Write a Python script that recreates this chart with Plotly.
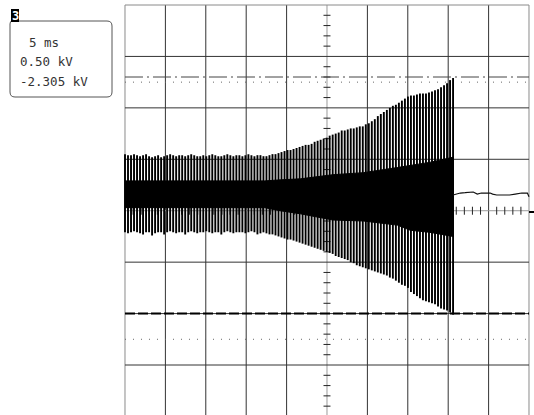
import plotly.graph_objects as go

ms_per_div = 5.0          # time base
kv_per_div = 0.50         # vertical scale
n_xdiv = 10
n_ydiv = 8

# burst: one vertical excursion every spike_period_ms (peak high / low in kV)
spike_period_ms = 0.3725
spike_hi = [
    0.55, 0.54, 0.54, 0.55, 0.54, 0.53, 0.54, 0.55, 0.53, 0.52,
    0.53, 0.54, 0.52, 0.53, 0.54, 0.55, 0.54, 0.53, 0.54, 0.54,
    0.53, 0.54, 0.55, 0.54, 0.53, 0.53, 0.54, 0.53, 0.54, 0.55,
    0.54, 0.53, 0.53, 0.54, 0.55, 0.54, 0.53, 0.54, 0.54, 0.53,
    0.54, 0.55, 0.54, 0.53, 0.54, 0.54, 0.53,
    0.53, 0.54, 0.55, 0.55, 0.56, 0.57, 0.58, 0.59, 0.59, 0.60,
    0.61, 0.62, 0.63, 0.64, 0.64, 0.65, 0.67, 0.68, 0.69, 0.70,
    0.71, 0.73, 0.74, 0.75, 0.76, 0.78, 0.78, 0.79, 0.80, 0.80,
    0.81, 0.82, 0.82, 0.84, 0.85, 0.87, 0.89, 0.92, 0.94, 0.96,
    0.98, 1.00, 1.02, 1.03, 1.05, 1.07, 1.09, 1.11, 1.12, 1.12,
    1.13, 1.14, 1.14, 1.14, 1.15, 1.16, 1.17, 1.18, 1.20, 1.22,
    1.24, 1.27, 1.29,
]
spike_lo = [
    -0.21, -0.22, -0.21, -0.20, -0.21, -0.22, -0.23, -0.21, -0.21, -0.24,
    -0.22, -0.21, -0.21, -0.23, -0.21, -0.20, -0.21, -0.22, -0.21, -0.21,
    -0.23, -0.21, -0.20, -0.21, -0.22, -0.21, -0.21, -0.20, -0.21, -0.22,
    -0.21, -0.21, -0.23, -0.21, -0.20, -0.21, -0.22, -0.21, -0.21, -0.21,
    -0.22, -0.21, -0.20, -0.21, -0.23, -0.22, -0.21,
    -0.22, -0.23, -0.23, -0.24, -0.25, -0.26, -0.27, -0.28, -0.28, -0.29,
    -0.30, -0.31, -0.32, -0.33, -0.34, -0.35, -0.36, -0.37, -0.38, -0.39,
    -0.40, -0.41, -0.42, -0.44, -0.45, -0.46, -0.47, -0.48, -0.50, -0.51,
    -0.53, -0.54, -0.55, -0.56, -0.57, -0.58, -0.59, -0.60, -0.61, -0.62,
    -0.63, -0.65, -0.66, -0.68, -0.70, -0.72, -0.73, -0.75, -0.79, -0.81,
    -0.83, -0.85, -0.87, -0.88, -0.89, -0.90, -0.91, -0.93, -0.95, -0.96,
    -0.97, -0.99, -1.01,
]

# dense core of the burst (upper / lower edge, kV)
band_t = [0.0, 17.3, 19.2, 21.7, 25.7, 29.5, 33.7, 35.3, 37.7, 40.6]
band_hi = [0.29, 0.29, 0.30, 0.31, 0.35, 0.37, 0.42, 0.44, 0.47, 0.52]
band_lo = [0.03, 0.03, 0.00, -0.03, -0.09, -0.10, -0.14, -0.19, -0.21, -0.25]

# trace after the burst
tail_t = [40.6, 41.1, 41.5, 42.1, 42.6, 43.1, 43.6, 44.1, 44.6, 45.2, 45.5,
          46.0, 46.8, 47.6, 48.3, 48.8, 49.1, 49.8, 50.0]
tail_v = [0.153, 0.162, 0.172, 0.175, 0.182, 0.182, 0.162, 0.172, 0.172, 0.172,
          0.162, 0.153, 0.153, 0.153, 0.162, 0.172, 0.172, 0.172, 0.136]

# cursor levels (kV)
cursor_dashdot = 1.30
cursor_dot_hi = 1.25
cursor_dash = -1.00
cursor_dot_lo = -1.25

info_lines = ["5 ms", "0.50 kV", "-2.305 kV"]
channel_label = "3"

# ---------------- figure ----------------
W, H = 534, 415
x_left_px, x_right_px = 125, 529
y_top_px = 5
px_per_div_y = 51.43

t_max = ms_per_div * n_xdiv
v_half = kv_per_div * n_ydiv / 2
px_per_ms = (x_right_px - x_left_px) / t_max
px_per_kv = px_per_div_y / kv_per_div
pad_ms = 0.3
v_top = v_half + y_top_px / px_per_kv
v_bot = v_top - H / px_per_kv

fig = go.Figure()

# spikes
sx, sy = [], []
for i, (hi, lo) in enumerate(zip(spike_hi, spike_lo)):
    t = i * spike_period_ms
    sx += [t, t, None]
    sy += [lo, hi, None]
fig.add_trace(go.Scatter(x=sx, y=sy, mode="lines",
                         line=dict(color="#000000", width=1.9),
                         hoverinfo="skip", showlegend=False))

# dense core
fig.add_trace(go.Scatter(x=band_t + band_t[::-1], y=band_hi + band_lo[::-1],
                         mode="lines", fill="toself", fillcolor="#000000",
                         line=dict(color="#000000", width=1),
                         hoverinfo="skip", showlegend=False))

# tail
fig.add_trace(go.Scatter(x=tail_t, y=tail_v, mode="lines",
                         line=dict(color="#111111", width=1.2),
                         hoverinfo="skip", showlegend=False))

shapes = []
# graticule
for k in range(n_xdiv + 1):
    t = k * ms_per_div
    if k in (0, n_xdiv):
        col = "#8a8a8a"
    elif k == n_xdiv // 2:
        col = "#9a9a9a"
    else:
        col = "#333333"
    shapes.append(dict(type="line", xref="x", yref="y", x0=t, x1=t,
                       y0=-v_half, y1=v_half, layer="below",
                       line=dict(color=col, width=1)))
for j in range(n_ydiv + 1):
    v = -v_half + j * kv_per_div
    if j in (0, n_ydiv):
        col = "#8a8a8a"
    elif j == n_ydiv // 2:
        col = "#9a9a9a"
    else:
        col = "#333333"
    shapes.append(dict(type="line", xref="x", yref="y", x0=0, x1=t_max,
                       y0=v, y1=v, layer="below",
                       line=dict(color=col, width=1)))
# minor ticks on centre axes
half_tick_ms = 3.5 / px_per_ms
for m in range(-n_ydiv * 5 // 2, n_ydiv * 5 // 2 + 1):
    if m % 5 == 0:
        continue
    v = m * kv_per_div / 5
    shapes.append(dict(type="line", xref="x", yref="y",
                       x0=t_max / 2 - half_tick_ms, x1=t_max / 2 + half_tick_ms,
                       y0=v, y1=v, layer="below",
                       line=dict(color="#222222", width=1)))
half_tick_kv = 4 / px_per_kv
for m in range(n_xdiv * 5 + 1):
    if m % 5 == 0:
        continue
    t = m * ms_per_div / 5
    shapes.append(dict(type="line", xref="x", yref="y", x0=t, x1=t,
                       y0=-half_tick_kv, y1=half_tick_kv, layer="below",
                       line=dict(color="#222222", width=1)))
# cursors
shapes.append(dict(type="line", xref="x", yref="y", x0=0, x1=t_max,
                   y0=cursor_dashdot, y1=cursor_dashdot, layer="below",
                   line=dict(color="#444444", width=1, dash="18px,4px,2px,4px")))
shapes.append(dict(type="line", xref="x", yref="y", x0=0, x1=t_max,
                   y0=cursor_dot_hi, y1=cursor_dot_hi, layer="below",
                   line=dict(color="#666666", width=1, dash="1px,7px")))
shapes.append(dict(type="line", xref="x", yref="y", x0=0, x1=t_max,
                   y0=cursor_dash, y1=cursor_dash, layer="below",
                   line=dict(color="#000000", width=2, dash="10px,3px")))
shapes.append(dict(type="line", xref="x", yref="y", x0=0, x1=t_max,
                   y0=cursor_dot_lo, y1=cursor_dot_lo, layer="below",
                   line=dict(color="#666666", width=1, dash="1px,7px")))


def px(x):
    return x / W


def py(y):
    return 1 - y / H


# ground marker at right edge
shapes.append(dict(type="line", xref="paper", yref="paper",
                   x0=px(529), x1=px(534), y0=py(212), y1=py(212),
                   line=dict(color="#000000", width=2)))

# info box (rounded)
r = 5
bx0, bx1, by0, by1 = 10, 112, 21, 97
path = (f"M {px(19)},{py(by0)} L {px(bx1 - r)},{py(by0)} "
        f"Q {px(bx1)},{py(by0)} {px(bx1)},{py(by0 + r)} "
        f"L {px(bx1)},{py(by1 - r)} Q {px(bx1)},{py(by1)} {px(bx1 - r)},{py(by1)} "
        f"L {px(bx0 + r)},{py(by1)} Q {px(bx0)},{py(by1)} {px(bx0)},{py(by1 - r)} "
        f"L {px(bx0)},{py(24)} Q {px(bx0)},{py(by0)} {px(12)},{py(by0)}")
shapes.append(dict(type="path", xref="paper", yref="paper", path=path,
                   line=dict(color="#555555", width=1)))
# channel label background
shapes.append(dict(type="rect", xref="paper", yref="paper",
                   x0=px(11), x1=px(19), y0=py(9), y1=py(22),
                   fillcolor="#000000", line=dict(width=0)))

annotations = [
    dict(xref="paper", yref="paper", x=px(15), y=py(15.5), text=f"<b>{channel_label}</b>",
         showarrow=False, xanchor="center", yanchor="middle",
         font=dict(family="DejaVu Sans Mono", size=12, color="#ffffff")),
]
text_pos = [(27, 42), (18, 62), (18, 81)]
for (tx, ty), s in zip(text_pos, info_lines):
    annotations.append(dict(xref="paper", yref="paper", x=px(tx), y=py(ty), text=s,
                            showarrow=False, xanchor="left", yanchor="middle",
                            font=dict(family="DejaVu Sans Mono", size=12.5, color="#333333")))

fig.update_layout(
    width=W, height=H,
    margin=dict(l=0, r=0, t=0, b=0, pad=0),
    paper_bgcolor="#ffffff", plot_bgcolor="#ffffff",
    shapes=shapes, annotations=annotations,
    xaxis=dict(range=[-pad_ms, t_max + pad_ms],
               domain=[(x_left_px - pad_ms * px_per_ms) / W,
                       (x_right_px + pad_ms * px_per_ms) / W],
               visible=False, fixedrange=True),
    yaxis=dict(range=[v_bot, v_top], domain=[0, 1], visible=False, fixedrange=True),
    showlegend=False,
)

fig.write_html("out.html")
